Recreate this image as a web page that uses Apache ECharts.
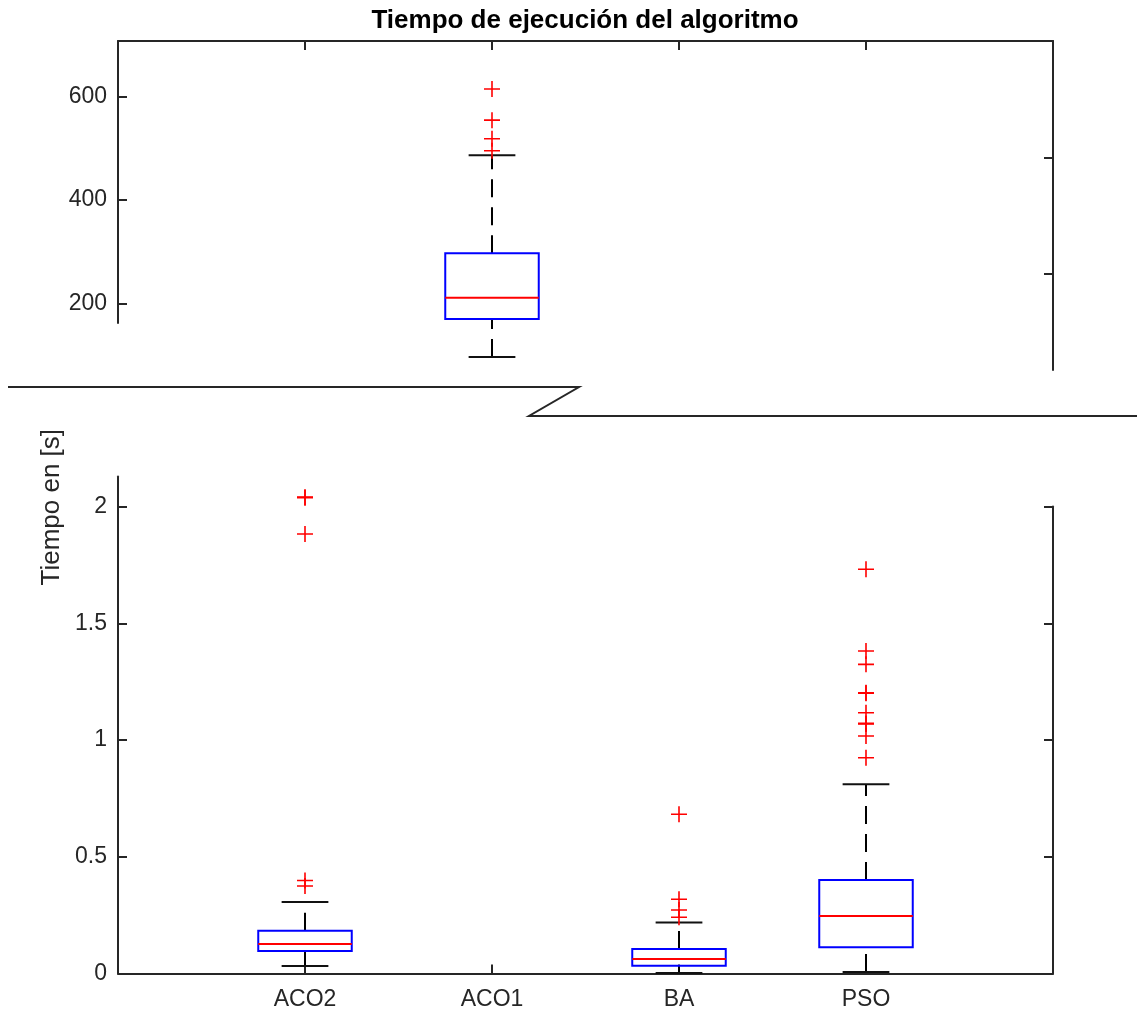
<!DOCTYPE html>
<html>
<head>
<meta charset="utf-8">
<script src="https://cdn.jsdelivr.net/npm/echarts@6/dist/echarts.min.js"></script>
<style>
html,body{margin:0;padding:0;background:#fff;}
#chart{width:1137px;height:1015px;}
</style>
</head>
<body>
<div id="chart"></div>
<script>
// ---- data ----
const categories = ['ACO2', 'ACO1', 'BA', 'PSO'];
const panel = ['bottom', 'top', 'bottom', 'bottom'];   // which part of the broken axis
const whiskerLow  = [0.032, 97,  0.002, 0.006];
const q1          = [0.096, 170, 0.033, 0.112];
const median      = [0.126, 211, 0.062, 0.246];
const q3          = [0.183, 297, 0.105, 0.400];
const whiskerHigh = [0.306, 486, 0.218, 0.810];
const outliersACO2 = [2.038, 2.040, 1.882, 0.398, 0.375];
const outliersACO1 = [614, 554, 518, 495];
const outliersBA   = [0.682, 0.318, 0.272, 0.241];
const outliersPSO  = [1.731, 1.381, 1.324, 1.200, 1.202, 1.117, 1.069, 1.071, 1.017, 0.924];
const outliers = [outliersACO2, outliersACO1, outliersBA, outliersPSO];
const topTicks = [200, 400, 600];
const bottomTicks = [0, 0.5, 1, 1.5, 2];
const title = 'Tiempo de ejecución del algoritmo';
const yLabel = 'Tiempo en [s]';

// ---- build ----
const AX = '#262626';
const FONT = 'Liberation Sans, Arial, Helvetica, sans-serif';
const catPos = categories.map((c, i) => i + 1);

function boxData(which) {
  const out = [];
  categories.forEach((c, i) => {
    if (panel[i] === which) out.push([i + 1, whiskerLow[i], q1[i], median[i], q3[i], whiskerHigh[i]]);
  });
  return out;
}
function outlierData(which) {
  const out = [];
  categories.forEach((c, i) => {
    if (panel[i] === which) outliers[i].forEach(v => out.push([i + 1, v]));
  });
  return out;
}

function renderBox(params, api) {
  const x = api.value(0);
  const low = api.value(1), a = api.value(2), med = api.value(3), b = api.value(4), high = api.value(5);
  const c = (xx, yy) => api.coord([xx, yy]);
  const pLow = c(x, low), pQ1 = c(x, a), pMed = c(x, med), pQ3 = c(x, b), pHigh = c(x, high);
  const xl = c(x - 0.25, med)[0], xr = c(x + 0.25, med)[0];
  const cl = c(x - 0.125, med)[0], cr = c(x + 0.125, med)[0];
  const whisk = { stroke: '#000', lineWidth: 2, lineDash: [18, 10] };
  const cap = { stroke: '#111', lineWidth: 2 };
  return {
    type: 'group',
    children: [
      { type: 'line', shape: { x1: pLow[0], y1: pLow[1], x2: pQ1[0], y2: pQ1[1] }, style: whisk },
      { type: 'line', shape: { x1: pQ3[0], y1: pQ3[1], x2: pHigh[0], y2: pHigh[1] }, style: whisk },
      { type: 'line', shape: { x1: cl, y1: pLow[1], x2: cr, y2: pLow[1] }, style: cap },
      { type: 'line', shape: { x1: cl, y1: pHigh[1], x2: cr, y2: pHigh[1] }, style: cap },
      { type: 'rect', shape: { x: xl, y: pQ3[1], width: xr - xl, height: pQ1[1] - pQ3[1] },
        style: { fill: 'none', stroke: '#0000ff', lineWidth: 2 } },
      { type: 'line', shape: { x1: xl, y1: pMed[1], x2: xr, y2: pMed[1] }, style: { stroke: '#ff0000', lineWidth: 2 } }
    ]
  };
}

const plus = 'path://M7.2,0h1.6v7.2h7.2v1.6h-7.2v7.2h-1.6v-7.2h-7.2v-1.6h7.2z';
const axisLine = () => ({ show: true, onZero: false, lineStyle: { color: AX, width: 2 } });
const tickStyle = { color: AX, width: 2 };
const labelStyle = { color: AX, fontSize: 23, fontFamily: FONT };

const option = {
  animation: false,
  backgroundColor: '#fff',
  title: {
    text: title, left: 585, top: 8, textAlign: 'center', padding: 0,
    textStyle: { fontSize: 26, fontWeight: 'bold', color: '#000', fontFamily: FONT }
  },
  grid: [
    { left: 118, width: 935, top: 41, height: 282 },   // 0: upper part, left spine
    { left: 118, width: 935, top: 41, height: 329 },   // 1: upper part, right spine
    { left: 118, width: 935, top: 476.5, height: 497 },// 2: lower part
    { left: 118, width: 935, top: 506.5, height: 467 },// 3: lower part, right spine
    { left: 118, width: 935, top: 41, height: 932.5 }  // 4: whole, y label
  ],
  xAxis: [
    { gridIndex: 0, type: 'value', min: 0, max: 5, position: 'top', axisLine: axisLine(),
      axisTick: { inside: true, length: 9, customValues: catPos, lineStyle: tickStyle },
      axisLabel: { show: false }, splitLine: { show: false } },
    { gridIndex: 1, type: 'value', min: 0, max: 5, show: false },
    { gridIndex: 2, type: 'value', min: 0, max: 5, position: 'bottom', axisLine: axisLine(),
      axisTick: { inside: true, length: 9, customValues: catPos, lineStyle: tickStyle },
      axisLabel: Object.assign({ customValues: catPos, margin: 15,
        formatter: v => categories[Math.round(v) - 1] || '' }, labelStyle),
      splitLine: { show: false } },
    { gridIndex: 3, type: 'value', min: 0, max: 5, show: false },
    { gridIndex: 4, type: 'value', min: 0, max: 5, show: false }
  ],
  yAxis: [
    { gridIndex: 0, type: 'value', min: 162.4, max: 706.8, position: 'left', axisLine: axisLine(),
      axisTick: { inside: true, length: 9, customValues: topTicks, lineStyle: tickStyle },
      axisLabel: Object.assign({ customValues: topTicks, margin: 11 }, labelStyle),
      splitLine: { show: false } },
    { gridIndex: 1, type: 'value', min: 2.586, max: 4.0, position: 'right', axisLine: axisLine(),
      axisTick: { inside: true, length: 9, customValues: [3, 3.5], lineStyle: tickStyle },
      axisLabel: { show: false }, splitLine: { show: false } },
    { gridIndex: 2, type: 'value', min: 0, max: 2.1285, position: 'left', axisLine: axisLine(),
      axisTick: { inside: true, length: 9, customValues: bottomTicks, lineStyle: tickStyle },
      axisLabel: Object.assign({ customValues: bottomTicks, margin: 11 }, labelStyle),
      splitLine: { show: false } },
    { gridIndex: 3, type: 'value', min: 0, max: 2, position: 'right', axisLine: axisLine(),
      axisTick: { inside: true, length: 9, customValues: bottomTicks, lineStyle: tickStyle },
      axisLabel: { show: false }, splitLine: { show: false } },
    { gridIndex: 4, type: 'value', min: 0, max: 1, position: 'left',
      axisLine: { show: false, onZero: false }, axisTick: { show: false }, axisLabel: { show: false }, splitLine: { show: false },
      name: yLabel, nameLocation: 'middle', nameGap: 53, nameRotate: 90,
      nameTextStyle: { fontSize: 26, color: AX, fontFamily: FONT } }
  ],
  series: [
    { type: 'custom', xAxisIndex: 0, yAxisIndex: 0, clip: false, renderItem: renderBox,
      data: boxData('top'), encode: { x: 0, y: [1, 2, 3, 4, 5] }, z: 2 },
    { type: 'custom', xAxisIndex: 2, yAxisIndex: 2, clip: false, renderItem: renderBox,
      data: boxData('bottom'), encode: { x: 0, y: [1, 2, 3, 4, 5] }, z: 2 },
    { type: 'scatter', xAxisIndex: 0, yAxisIndex: 0, symbol: plus, symbolSize: 16,
      itemStyle: { color: '#ff0000', opacity: 1 }, data: outlierData('top'), z: 3, clip: false },
    { type: 'scatter', xAxisIndex: 2, yAxisIndex: 2, symbol: plus, symbolSize: 16,
      itemStyle: { color: '#ff0000', opacity: 1 }, data: outlierData('bottom'), z: 3, clip: false }
  ],
  graphic: [
    { type: 'polyline', shape: { points: [[8, 387], [579, 387], [529, 416], [1137, 416]] },
      style: { stroke: AX, lineWidth: 2, fill: 'none' }, z: 10 }
  ]
};

const chart = echarts.init(document.getElementById('chart'), null, { renderer: 'canvas' });
chart.setOption(option);
</script>
</body>
</html>
